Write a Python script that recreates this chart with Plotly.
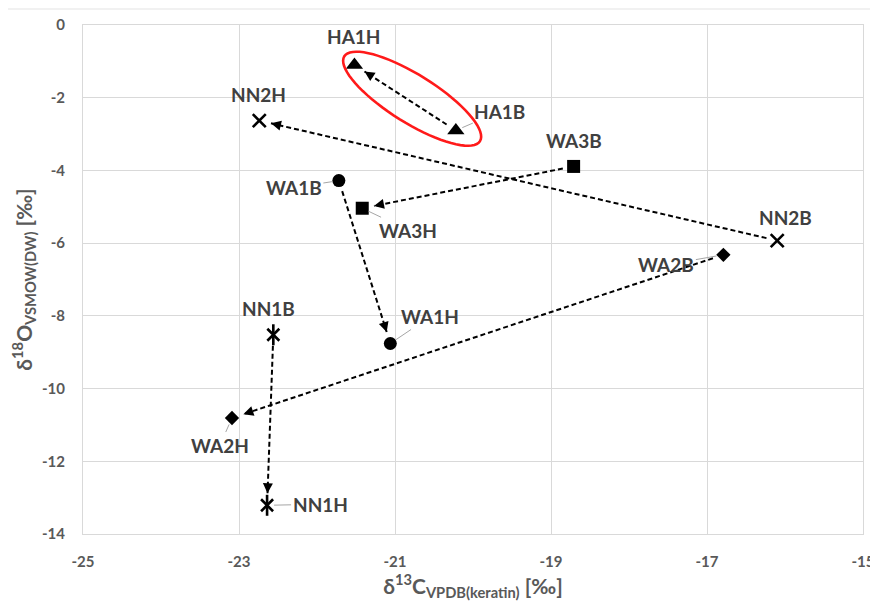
import numpy as np
import plotly.graph_objects as go

# ---------------- data ----------------
samples = ["HA1", "NN2", "WA3", "WA1", "WA2", "NN1"]
b_x = [-20.22, -16.10, -18.71, -21.72, -16.79, -22.56]
b_y = [-2.90, -5.93, -3.89, -4.28, -6.32, -8.52]
h_x = [-21.52, -22.74, -21.42, -21.06, -23.09, -22.64]
h_y = [-1.10, -2.63, -5.04, -8.76, -10.81, -13.21]

x_ticks = [-25, -23, -21, -19, -17, -15]
y_ticks = [0, -2, -4, -6, -8, -10, -12, -14]

# ---------------- styling ----------------
# page body has an 8px margin, so the figure is sized/offset to compensate
W, H = 870, 593
ML, MR, MT, MB = 75, 15, 17, 67
X_RANGE = [-25, -15]
Y_RANGE = [-14, 0]
kx = (W - ML - MR) / (X_RANGE[1] - X_RANGE[0])
ky = (H - MT - MB) / (Y_RANGE[1] - Y_RANGE[0])

symbols = {
    "HA1": [("triangle-up", 15, 0)],
    "NN2": [("x-thin-open", 13, 2.6)],
    "WA3": [("square", 13, 0)],
    "WA1": [("circle", 13, 0)],
    "WA2": [("diamond", 11, 0)],
    "NN1": [("x-thin-open", 12, 2.6), ("line-ns-open", 15, 2.6)],
}

# label offsets (px, screen: +x right, +y down) for B and H labels, leader flag
lab_b = {"HA1": (44, -19, True), "NN2": (8, -23, False), "WA3": (0, -26, False),
         "WA1": (-45, 7, True), "WA2": (-57, 10, True), "NN1": (-5, -26, False)}
lab_h = {"HA1": (0, -28, False), "NN2": (-1, -26, False), "WA3": (46, 22, True),
         "WA1": (40, -27, True), "WA2": (-12, 27, True), "NN1": (53, -1, True)}

LABEL_FONT = dict(family="Lato, Open Sans, sans-serif", size=19, color="#404040", weight="bold")

fig = go.Figure()
annotations = []

for i, s in enumerate(samples):
    xb, yb, xh, yh = b_x[i], b_y[i], h_x[i], h_y[i]
    # dashed arrow line B -> H (shortened in pixel space)
    dxp = (xh - xb) * kx
    dyp = -(yh - yb) * ky
    L = np.hypot(dxp, dyp)
    ux, uy = dxp / L, dyp / L
    s0, s1 = 11, 12
    x0 = xb + ux * s0 / kx
    y0 = yb - uy * s0 / ky
    x1 = xh - ux * s1 / kx
    y1 = yh + uy * s1 / ky
    fig.add_trace(go.Scatter(x=[x0, x1], y=[y0, y1], mode="lines",
                             line=dict(color="black", width=2, dash="5px,3px"),
                             hoverinfo="skip", showlegend=False))
    annotations.append(dict(x=x1, y=y1, xref="x", yref="y", ax=-ux * 9, ay=-uy * 9,
                            axref="pixel", ayref="pixel", showarrow=True, arrowhead=2,
                            arrowsize=1, arrowwidth=2, arrowcolor="black", text=""))
    # markers
    for sym, sz, lw in symbols[s]:
        fig.add_trace(go.Scatter(x=[xb, xh], y=[yb, yh], mode="markers",
                                 marker=dict(symbol=sym, size=sz, color="black",
                                             line=dict(color="black", width=lw)),
                                 showlegend=False, hoverinfo="skip"))
    # labels
    for (xx, yy, suffix, (ox, oy, leader)) in [(xb, yb, "B", lab_b[s]), (xh, yh, "H", lab_h[s])]:
        txt = s + suffix
        if leader:
            annotations.append(dict(x=xx, y=yy, xref="x", yref="y", text=txt, font=LABEL_FONT,
                                    showarrow=True, arrowhead=0, arrowwidth=1, arrowcolor="#a6a6a6",
                                    ax=ox, ay=oy, standoff=7))
        else:
            annotations.append(dict(x=xx, y=yy, xref="x", yref="y", text=txt, font=LABEL_FONT,
                                    showarrow=False, xshift=ox, yshift=-oy))

# red ellipse around the HA1 pair
i = samples.index("HA1")
cxd = (b_x[i] + h_x[i]) / 2 + 7 / kx
cyd = (b_y[i] + h_y[i]) / 2 - 1 / ky
a_px, b_px, th = 80, 24, np.deg2rad(32)
t = np.linspace(0, 2 * np.pi, 73)
exp = a_px * np.cos(t) * np.cos(th) - b_px * np.sin(t) * np.sin(th)
eyp = a_px * np.cos(t) * np.sin(th) + b_px * np.sin(t) * np.cos(th)
ex = cxd + exp / kx
ey = cyd - eyp / ky
path = "M " + " L ".join(f"{a:.4f},{b:.4f}" for a, b in zip(ex, ey)) + " Z"
shapes = [dict(type="path", path=path, xref="x", yref="y",
               line=dict(color="#ff1a1a", width=2.6))]

# faint line at the very top of the image
ytop = 1 + (MT - 1) / (H - MT - MB)
shapes.append(dict(type="line", xref="paper", yref="paper", x0=-ML / (W - ML - MR), x1=1 + MR / (W - ML - MR),
                   y0=ytop, y1=ytop, line=dict(color="#e3e3e3", width=1)))

TICK_FONT = dict(family="Lato, Open Sans, sans-serif", size=15, color="#595959", weight="bold")
TITLE_FONT = dict(family="Lato, Open Sans, sans-serif", size=21, color="#595959", weight="bold")

fig.update_layout(
    width=W, height=H,
    margin=dict(l=ML, r=MR, t=MT, b=MB, pad=0),
    paper_bgcolor="white", plot_bgcolor="white",
    annotations=annotations, shapes=shapes,
    xaxis=dict(range=X_RANGE, tickvals=x_ticks, ticktext=[str(v) for v in x_ticks],
               showgrid=True, gridcolor="#d9d9d9", gridwidth=1, zeroline=False,
               showline=True, linecolor="#d9d9d9", mirror=True, ticks="", automargin=False,
               tickfont=TICK_FONT, ticklabelstandoff=14, ticklabeloverflow="allow",
               title=dict(text="δ<sup>13</sup>C<sub>VPDB(keratin)</sub> [‰]", font=TITLE_FONT, standoff=2)),
    yaxis=dict(range=Y_RANGE, tickvals=y_ticks, ticktext=[str(v) for v in y_ticks],
               showgrid=True, gridcolor="#d9d9d9", gridwidth=1, zeroline=False,
               showline=True, linecolor="#d9d9d9", mirror=True, ticks="", automargin=False,
               tickfont=TICK_FONT, ticklabelstandoff=14, ticklabeloverflow="allow",
               title=dict(text="δ<sup>18</sup>O<sub>VSMOW(DW)</sub> [‰]", font=TITLE_FONT, standoff=4)),
)

fig.write_html("out.html")
